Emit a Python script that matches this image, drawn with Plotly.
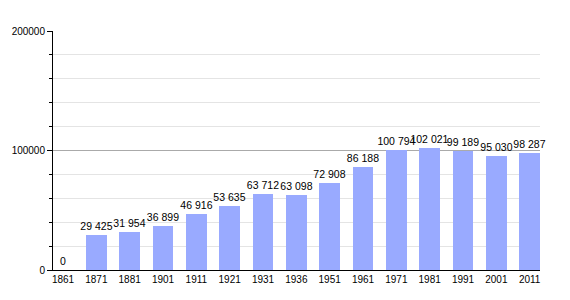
import plotly.graph_objects as go

years = ["1861", "1871", "1881", "1901", "1911", "1921", "1931", "1936",
         "1951", "1961", "1971", "1981", "1991", "2001", "2011"]
population = [0, 29425, 31954, 36899, 46916, 53635, 63712, 63098,
              72908, 86188, 100794, 102021, 99189, 95030, 98287]
y_ticks = [0, 100000, 200000]

positions = list(range(len(years)))
labels = ["{:,}".format(v).replace(",", " ") for v in population]

fig = go.Figure()
fig.add_trace(go.Bar(
    x=positions, y=population, width=0.62,
    marker=dict(color="#99aaff", line=dict(width=0)),
    text=labels, textposition="outside", cliponaxis=False,
    textangle=0, constraintext="none",
    textfont=dict(size=10.5, color="black", family="Liberation Sans"),
))

fig.update_layout(
    width=570, height=300,
    margin=dict(l=50, r=30, t=31, b=30),
    paper_bgcolor="white", plot_bgcolor="white",
    showlegend=False,
    font=dict(family="Liberation Sans", size=10, color="black"),
    bargap=0,
)
fig.update_xaxes(
    range=[-0.3, 14.31], tickvals=positions, ticktext=years,
    showline=True, linecolor="black", linewidth=1,
    showgrid=False, zeroline=False, ticks="", tickfont=dict(size=10),
)
fig.update_yaxes(
    range=[0, 200000], tickvals=y_ticks, ticktext=[str(v) for v in y_ticks],
    showline=True, linecolor="black", linewidth=1,
    showgrid=True, gridcolor="#aaaaaa", gridwidth=1,
    zeroline=False, ticks="outside", ticklen=5, tickcolor="black",
    minor=dict(dtick=20000, showgrid=True, gridcolor="#e4e4e4",
               ticks="outside", ticklen=3, tickcolor="black"),
    tickfont=dict(size=10),
)

fig.write_html("out.html")
